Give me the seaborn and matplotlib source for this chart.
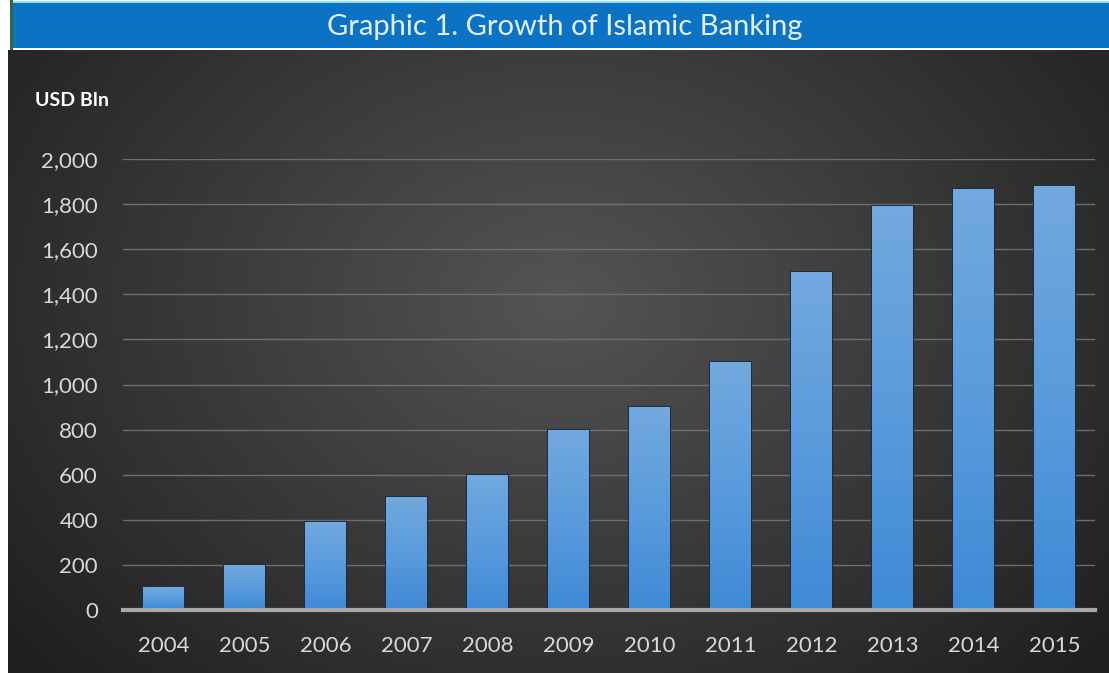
import numpy as np
import pandas as pd
import matplotlib
matplotlib.use("Agg")
import matplotlib.pyplot as plt
import seaborn as sns
from matplotlib.patches import Rectangle
from matplotlib.ticker import FuncFormatter
from matplotlib.colors import LinearSegmentedColormap

years = ["2004", "2005", "2006", "2007", "2008", "2009", "2010", "2011", "2012", "2013", "2014", "2015"]
assets = [100, 200, 390, 500, 600, 800, 900, 1100, 1500, 1790, 1865, 1880]
title = "Graphic 1. Growth of Islamic Banking"
unit_label = "USD Bln"

sns.set_theme(style="dark")
plt.rcParams['font.family'] = ['Lato', 'DejaVu Sans']

W, H = 1109, 673
fig = plt.figure(figsize=(W / 100, H / 100), dpi=100)
fig.patch.set_facecolor("white")

# background with radial gradient
bg = fig.add_axes([8 / W, 0, 1 - 8 / W, 1 - 50 / H])
yy, xx = np.mgrid[0:200, 0:300]
cx, cy = 150, 80
r = np.sqrt(((xx - cx) / 170) ** 2 + ((yy - cy) / 150) ** 2)
val = np.clip(0.33 - 0.18 * r, 0.12, 0.35)
img = np.dstack([val, val, val])
bg.imshow(img, aspect="auto", extent=[0, 1, 0, 1], interpolation="bicubic")
bg.set_axis_off()

# title bar
fig.patches.append(Rectangle((10 / W, 1 - 48 / H), 1 - 10 / W, 46 / H, transform=fig.transFigure,
                             facecolor="#0B72C4", edgecolor="none", zorder=1))
fig.patches.append(Rectangle((10 / W, 1 - 2.5 / H), 1 - 10 / W, 1.5 / H, transform=fig.transFigure,
                             facecolor="#8FE0F0", edgecolor="none", zorder=2))
fig.patches.append(Rectangle((10 / W, 1 - 50 / H), 3 / W, 50 / H, transform=fig.transFigure,
                             facecolor="#2E6B3A", edgecolor="none", zorder=2))
fig.text(0.509, 1 - 27 / H, title, ha="center", va="center", color="#E3F0FA", fontsize=21)

ax = fig.add_axes([123 / W, 1 - 610 / H, (1095 - 123) / W, (610 - 159) / H])
ax.set_facecolor("none")
df = pd.DataFrame({"year": years, "assets": assets})
sns.barplot(data=df, x="year", y="assets", ax=ax, color="#5B9BDB", width=0.5, saturation=1,
            edgecolor="#1C2E44", linewidth=1.5, zorder=3)

# vertical gradient fill for each bar
cmap = LinearSegmentedColormap.from_list("bluegrad", ["#3F8AD6", "#5A9BDC", "#72A9DE"])
grad = np.linspace(0, 1, 256).reshape(-1, 1)
for p in list(ax.patches):
    x0, y0 = p.get_x(), p.get_y()
    w, h = p.get_width(), p.get_height()
    im = ax.imshow(grad, cmap=cmap, aspect="auto", origin="lower",
                   extent=[x0, x0 + w, y0, y0 + h], zorder=3.5)
    im.set_clip_path(p)

ax.set_ylim(0, 2000)
ax.set_xlim(-0.5, 11.5)
ax.set_yticks(np.arange(0, 2001, 200))
ax.yaxis.set_major_formatter(FuncFormatter(lambda v, p: f"{int(v):,}"))
ax.grid(axis="y", color="#6e6e6e", linewidth=1, zorder=0)
ax.grid(axis="x", visible=False)
ax.set_axisbelow(True)
for s in ["top", "right", "left"]:
    ax.spines[s].set_visible(False)
ax.spines["bottom"].set_color("#A8A8A8")
ax.spines["bottom"].set_linewidth(3)
ax.spines["bottom"].set_zorder(4)
ax.tick_params(axis="both", colors="#D9D9D9", labelsize=16, length=0)
ax.tick_params(axis="y", pad=18)
ax.tick_params(axis="x", pad=19)
for t in ax.get_yticklabels() + ax.get_xticklabels():
    t.set_color("#D9D9D9")
ax.set_xlabel("")
ax.set_ylabel("")
fig.text(35 / W, 1 - 100 / H, unit_label, color="white", fontsize=14, fontweight="bold",
         va="center", ha="left")

fig.savefig("out.png", dpi=100)
